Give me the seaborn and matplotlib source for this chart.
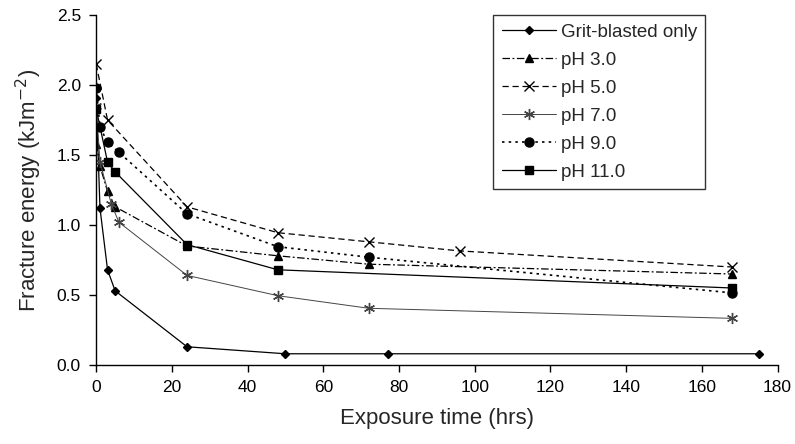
import numpy as np
import pandas as pd
import matplotlib
matplotlib.use('Agg')
import matplotlib.pyplot as plt
import seaborn as sns

sns.set_style('ticks')
plt.rcParams['font.family'] = ['Liberation Sans', 'DejaVu Sans']

# ---------------------------------------------------------
# Data
# ---------------------------------------------------------
grit_t = [0, 1, 3, 5, 24, 50, 77, 175]
grit_e = [1.91, 1.12, 0.68, 0.53, 0.13, 0.08, 0.08, 0.08]

ph3_t = [0, 1, 3, 5, 24, 48, 72, 168]
ph3_e = [1.58, 1.42, 1.24, 1.13, 0.85, 0.78, 0.72, 0.65]

ph5_t = [0, 3, 24, 48, 72, 96, 168]
ph5_e = [2.15, 1.75, 1.13, 0.945, 0.88, 0.815, 0.70]

ph7_t = [0, 1, 4, 6, 24, 48, 72, 168]
ph7_e = [1.85, 1.45, 1.15, 1.02, 0.64, 0.495, 0.405, 0.333]

ph9_t = [0, 1, 3, 6, 24, 48, 72, 168]
ph9_e = [1.98, 1.70, 1.59, 1.52, 1.08, 0.845, 0.77, 0.515]

ph11_t = [0, 3, 5, 24, 48, 168]
ph11_e = [1.83, 1.45, 1.38, 0.86, 0.68, 0.55]

LABELS = ['Grit-blasted only', 'pH 3.0', 'pH 5.0', 'pH 7.0', 'pH 9.0', 'pH 11.0']
TIMES = [grit_t, ph3_t, ph5_t, ph7_t, ph9_t, ph11_t]
ENERGY = [grit_e, ph3_e, ph5_e, ph7_e, ph9_e, ph11_e]

STYLES = {
    'Grit-blasted only': dict(ls='-', marker='D', ms=4.5, color='black', lw=0.9),
    'pH 3.0': dict(ls=(0, (6, 2, 1.5, 2)), marker='^', ms=5.5, color='black', lw=0.9),
    'pH 5.0': dict(ls=(0, (5, 3)), marker='x', ms=7, color='black', lw=0.9),
    'pH 7.0': dict(ls='-', marker=(6, 2, 0), ms=8, color='#444444', lw=0.7),
    'pH 9.0': dict(ls=(0, (1.5, 2.5)), marker='o', ms=6.5, color='black', lw=1.2),
    'pH 11.0': dict(ls='-', marker='s', ms=5.5, color='black', lw=0.9),
}

df = pd.concat(
    [pd.DataFrame({'time': t, 'energy': e, 'series': lab})
     for lab, t, e in zip(LABELS, TIMES, ENERGY)],
    ignore_index=True,
)

fig, ax = plt.subplots(figsize=(7.95, 4.44), dpi=100)
fig.subplots_adjust(left=0.121, right=0.978, top=0.966, bottom=0.178)

for lab in LABELS:
    st = STYLES[lab]
    sub = df[df['series'] == lab]
    sns.lineplot(data=sub, x='time', y='energy', ax=ax, label=lab,
                 color=st['color'], linestyle=st['ls'], linewidth=st['lw'],
                 marker=st['marker'], markersize=st['ms'],
                 markeredgecolor=st['color'], markerfacecolor=st['color'],
                 markeredgewidth=1.0, sort=False)

ax.set_xlim(0, 180)
ax.set_ylim(0, 2.5)
ax.set_xticks(np.arange(0, 181, 20))
ax.set_yticks(np.arange(0, 2.51, 0.5))
ax.yaxis.set_major_formatter(matplotlib.ticker.FormatStrFormatter('%.1f'))
ax.tick_params(labelsize=12.5, length=5, width=1, colors='black', pad=6)
ax.set_xlabel('Exposure time (hrs)', fontsize=16, labelpad=9)
ax.set_ylabel('Fracture energy (kJm$^{-2}$)', fontsize=16, labelpad=9)
sns.despine(ax=ax)
for sp in ['left', 'bottom']:
    ax.spines[sp].set_color('black')
    ax.spines[sp].set_linewidth(1.0)

leg = ax.legend(loc='upper right', bbox_to_anchor=(0.894, 1.0), fontsize=13.5,
                frameon=True, fancybox=False, edgecolor='black',
                handlelength=2.9, handletextpad=0.25, labelspacing=0.58,
                borderpad=0.45, borderaxespad=0.0)
leg.get_frame().set_linewidth(1.0)

fig.savefig('out.png', dpi=100)
